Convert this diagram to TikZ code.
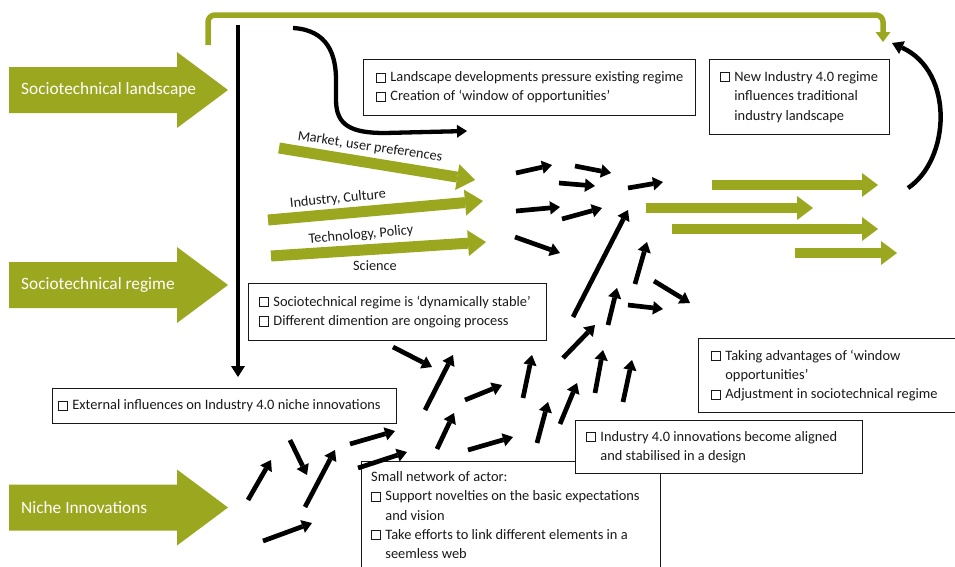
\documentclass[tikz,border=0pt]{standalone}
\usepackage{fontspec}
\setmainfont{Carlito}
\usetikzlibrary{arrows.meta}
\definecolor{ogreen}{RGB}{155,167,30}
\definecolor{ink}{RGB}{25,25,25}
\newcommand\bx{{\setlength\fboxsep{0pt}\setlength\fboxrule{0.6pt}\fbox{\rule{0pt}{8.5pt}\hspace{8.5pt}}}\hspace{4.5pt}}
\newcommand\ind{\phantom{\bx}}
\newcommand\bigarrow[1]{\fill[ogreen] (9,{#1-23}) -- (177,{#1-23}) -- (177,{#1-38}) -- (228,#1) -- (177,{#1+38}) -- (177,{#1+23}) -- (9,{#1+23}) -- cycle;}
\begin{document}
\begin{tikzpicture}[x=1pt,y=-1pt,
  box/.style={draw=ink, line width=0.9pt, fill=white, inner sep=0pt, anchor=north west},
  txt/.style={anchor=west, align=left, inner sep=0pt, font=\fontsize{14.4}{19.3}\selectfont, text=ink},
  lab/.style={inner sep=0pt, font=\fontsize{14.3}{17}\selectfont, text=ink},
  blk/.style={draw=black, line width=4.7pt, -{Triangle[width=13.5pt,length=10pt,line width=0pt]}},
  garrow/.style={draw=ogreen, line width=11pt, -{Triangle[width=26pt,length=18pt,line width=0pt]}},
  rarrow/.style={draw=ogreen, line width=10pt, -{Triangle[width=24pt,length=16pt,line width=0pt]}},
  biglab/.style={anchor=west, inner sep=0pt, text=white, font=\fontsize{17.3}{20}\selectfont}]
\useasboundingbox (0,0) rectangle (955,566);
\clip (0,0) rectangle (955,566);

% big left arrows
\bigarrow{90}
\bigarrow{285}
\bigarrow{507.5}
\node[biglab] (land) at (21,90) {Sociotechnical landscape};
\node[biglab] (regime) at (21,285) {Sociotechnical regime};
\node[biglab] (niche) at (21,507.5) {Niche Innovations};

% green feedback loop
\coordinate (g0) at (208,45);
\coordinate (g1) at (883,42);
\draw[draw=ogreen, line width=5.5pt, rounded corners=7pt, -{Triangle[width=15pt,length=10pt,line width=0pt]}] (g0) -- (208,15) -- (883,15) -- (g1);

% vertical black arrow
\coordinate (v0) at (238,25);
\coordinate (v1) at (238,377);
\draw[draw=black, line width=4.5pt, -{Triangle[width=14pt,length=11pt,line width=0pt]}] (v0) -- (v1);

% curved top arrow
\coordinate (c0) at (293,28);
\coordinate (c1) at (467,131);
\draw[draw=black, line width=4.3pt, -{Triangle[width=13pt,length=10pt,line width=0pt]}] (c0) .. controls (328,30) and (336,55) .. (336,80) -- (336,100) .. controls (336,126) and (352,133) .. (385,133) -- (c1);

% curved right arrow
\coordinate (r0) at (908,188);
\coordinate (r1) at (892,43);
\draw[draw=black, line width=4.5pt, -{Triangle[width=14pt,length=11pt,line width=0pt]}] (r0) .. controls (950,160) and (955,72) .. (r1);

% middle green arrows
\coordinate (m1s) at (279,148); \coordinate (m1e) at (475,180);
\coordinate (m2s) at (268,220); \coordinate (m2e) at (483,201);
\coordinate (m3s) at (271,256); \coordinate (m3e) at (486,242);
\draw[garrow] (m1s) -- (m1e);
\draw[garrow] (m2s) -- (m2e);
\draw[garrow] (m3s) -- (m3e);
\node[lab, rotate=-8.5] (lm) at (370,147) {Market, user preferences};
\node[lab, rotate=5.5] (li) at (338,199) {Industry, Culture};
\node[lab, rotate=5] (lt) at (361,235) {Technology, Policy};
\node[lab] (ls) at (375,266) {Science};

% right green arrows
\coordinate (q1s) at (712,185); \coordinate (q1e) at (878,185);
\coordinate (q2s) at (646,208); \coordinate (q2e) at (813,208);
\coordinate (q3s) at (672,229); \coordinate (q3e) at (878,229);
\coordinate (q4s) at (795,253); \coordinate (q4e) at (897,253);
\draw[rarrow] (q1s) -- (q1e);
\draw[rarrow] (q2s) -- (q2e);
\draw[rarrow] (q3s) -- (q3e);
\draw[rarrow] (q4s) -- (q4e);

% boxes
\node[box, minimum width=299pt, minimum height=108pt] (boxG) at (361,461) {};
\node[txt] (tG) at ([xshift=10pt]boxG.west) {Small network of actor:\\\bx Support novelties on the basic expectations\\\ind and vision\\\bx Take efforts to link different elements in a\\\ind seemless web};
\node[box, minimum width=287pt, minimum height=53pt] (boxF) at (575,420) {};
\node[txt] (tF) at ([xshift=11pt]boxF.west) {\bx Industry 4.0 innovations become aligned\\\ind and stabilised in a design};
\node[box, minimum width=332pt, minimum height=56pt] (boxA) at (363,59) {};
\node[txt] (tA) at ([xshift=13pt]boxA.west) {\bx Landscape developments pressure existing regime\\\bx Creation of ‘window of opportunities’};
\node[box, minimum width=180pt, minimum height=75pt] (boxB) at (709,59) {};
\node[txt] (tB) at ([xshift=11pt]boxB.west) {\bx New Industry 4.0 regime\\\ind influences traditional\\\ind industry landscape};
\node[box, minimum width=298pt, minimum height=57pt] (boxC) at (248,283) {};
\node[txt] (tC) at ([xshift=11pt]boxC.west) {\bx Sociotechnical regime is ‘dynamically stable’\\\bx Different dimention are ongoing process};
\node[box, minimum width=344pt, minimum height=35pt] (boxD) at (52,388) {};
\node[txt] (tD) at ([xshift=6pt]boxD.west) {\bx External influences on Industry 4.0 niche innovations};
\node[box, minimum width=270pt, minimum height=74pt] (boxE) at (698,338) {};
\node[txt] (tE) at ([xshift=13pt]boxE.west) {\bx Taking advantages of ‘window\\\ind opportunities’\\\bx Adjustment in sociotechnical regime};

% black small arrows
\foreach \i/\a/\b/\c/\d in {
 1/516/173/552/165, 2/575/166/611/173, 3/559/183/595/186, 4/628/188/663/182,
 5/516/211/560/207, 6/562/219/602/208, 7/515/237/560/253, 8/573/317/628/210,
 9/635/284/647/242, 10/654/281/690/303, 11/628/305/663/309, 12/608/325/617/288,
 13/563/358/595/325, 14/523/398/532/355, 15/537/443/548/402, 16/560/424/577/383,
 17/595/393/603/350, 18/623/402/632/360, 19/393/347/432/367, 20/425/410/453/355,
 21/465/400/502/385, 22/468/450/513/437, 23/437/449/454/413, 24/358/468/407/452,
 25/350/444/395/431, 26/290/440/307/475, 27/248/500/271/460, 28/305/507/335/450,
 29/263/541/312/523} {
  \coordinate (s\i) at (\a,\b);
  \coordinate (e\i) at (\c,\d);
  \draw[blk] (s\i) -- (e\i);
}
\end{tikzpicture}
\end{document}
